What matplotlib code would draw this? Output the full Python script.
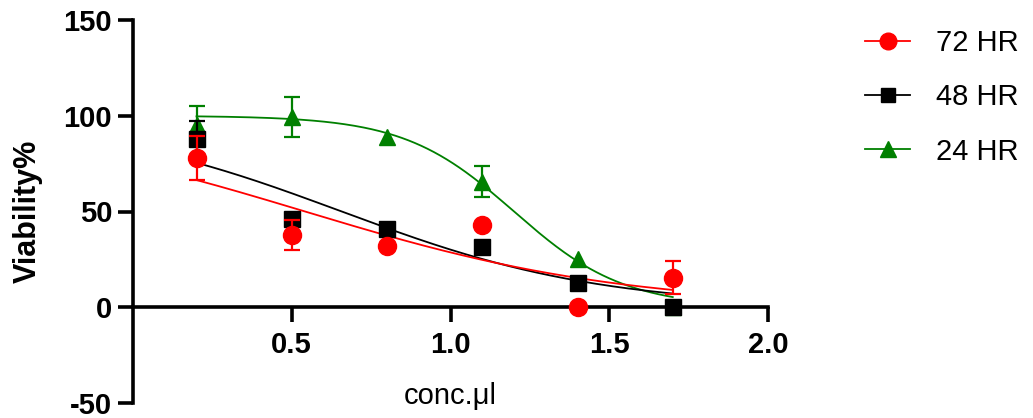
import numpy as np
import matplotlib
matplotlib.use("Agg")
import matplotlib.pyplot as plt

plt.rcParams['font.family'] = ['Liberation Sans', 'DejaVu Sans']
plt.rcParams['axes.unicode_minus'] = False

# Concentrations (x) and viability (%) per exposure time
conc = [0.2, 0.5, 0.8, 1.1, 1.4, 1.7]

labels = ["72 HR", "48 HR", "24 HR"]
colors = ["#FF0000", "#000000", "#008000"]
markers = ["o", "s", "^"]

via_72 = [78, 37.6, 32, 43, 0, 15.5]
err_72 = [11.5, 7.8, 0, 0, 0, 8.7]

via_48 = [88, 46, 41, 31.5, 12.7, 0]
err_48 = [9, 3, 0, 0, 0, 0]

via_24 = [95, 99.5, 89, 65.5, 25, 0]
err_24 = [10, 10.5, 0, 8, 0, 0]

# Four-parameter logistic fit parameters: (top, bottom, x50, hill slope)
fit_72 = (100, 0, 0.542, 0.866)
fit_48 = (100, 0, 0.657, 1.067)
fit_24 = (100, 0, 1.2, 2.5)


def logistic(x, top, bottom, x50, slope):
    return bottom + (top - bottom) / (1 + 10 ** ((x - x50) * slope))


fig = plt.figure(figsize=(10.33, 4.18), dpi=100)
ax = fig.add_axes([133 / 1033, 1 - 403 / 418, 635 / 1033, 383 / 418])

# draw 24 HR first, 72 HR last (on top)
series = [
    (via_24, err_24, fit_24, 2, 0),
    (via_48, err_48, fit_48, 1, 1),
    (via_72, err_72, fit_72, 0, 2),
]
msizes = {"o": 13, "s": 11.5, "^": 12}

xs = np.linspace(min(conc), max(conc), 300)
handles = {}
for vals, errs, fit, i, layer in series:
    c = colors[i]
    ax.plot(xs, logistic(xs, *fit), color=c, lw=1.3, zorder=2 + layer * 0.1)
    yerr = np.array(errs, dtype=float)
    ax.errorbar(conc, vals, yerr=np.where(yerr > 0, yerr, np.nan), fmt="none",
                ecolor=c, elinewidth=1.6, capsize=6, capthick=1.6, zorder=3 + layer)
    ax.plot(conc, vals, linestyle="none", marker=markers[i], ms=msizes[markers[i]],
            color=c, mec=c, zorder=3 + layer + 0.5)
    handles[i] = plt.Line2D([], [], color=c, lw=1.3, marker=markers[i],
                            ms=msizes[markers[i]] - 1.0, mec=c)

ax.set_xlim(0, 2.0)
ax.set_ylim(-50, 150)
ax.set_xticks([0.5, 1.0, 1.5, 2.0])
ax.set_xticklabels(["0.5", "1.0", "1.5", "2.0"])
ax.set_yticks([-50, 0, 50, 100, 150])

for s in ["top", "right"]:
    ax.spines[s].set_visible(False)
ax.spines["bottom"].set_position(("data", 0))
ax.spines["bottom"].set_bounds(0, 2.0)
ax.spines["left"].set_bounds(-50, 150)
for s in ["left", "bottom"]:
    ax.spines[s].set_linewidth(2.6)
    ax.spines[s].set_capstyle("projecting")

ax.tick_params(axis="both", direction="out", length=11, width=2.6,
               labelsize=21)
ax.tick_params(axis="x", pad=6)
ax.tick_params(axis="y", pad=4)
for lab in ax.get_xticklabels() + ax.get_yticklabels():
    lab.set_fontweight("bold")

ax.set_ylabel("Viability%", fontsize=22, fontweight="bold")
ax.yaxis.set_label_coords(-0.165, 0.5)
ax.yaxis.label.set_va("center")
ax.set_xlabel("conc.\u03bcl", fontsize=21)
ax.xaxis.set_label_coords(0.5, 0.018)
ax.xaxis.label.set_va("center")

fig.legend([handles[0], handles[1], handles[2]], labels,
           loc="upper left", bbox_to_anchor=(865 / 1033, 1 - 29 / 418),
           frameon=False, fontsize=21, handlelength=1.55, handletextpad=0.9,
           labelspacing=0.9, borderpad=0, borderaxespad=0)

fig.savefig("out.png", dpi=100)
